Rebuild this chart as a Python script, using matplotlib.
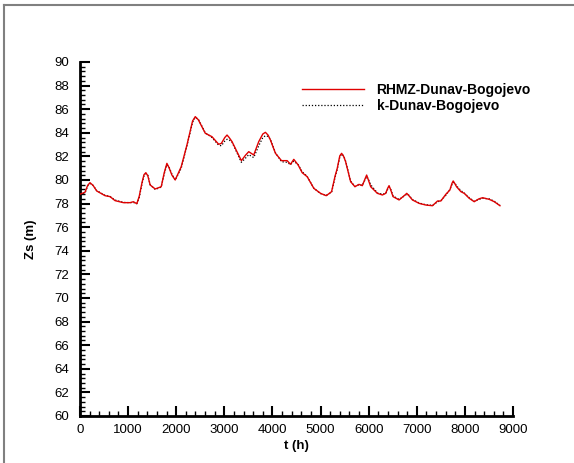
import matplotlib
matplotlib.use("Agg")
import matplotlib.pyplot as plt
from matplotlib.ticker import MultipleLocator
from matplotlib.lines import Line2D

plt.rcParams['font.family'] = ['Liberation Sans', 'DejaVu Sans']

t_h = [0, 104, 160, 208, 270, 348, 521, 625, 729, 902, 1042, 1110, 1181, 1230,
       1290, 1330, 1369, 1410, 1458, 1563, 1688, 1750, 1806, 1850, 1910, 1979,
       2104, 2223, 2340, 2396, 2460, 2604, 2743, 2882, 2938, 3010, 3056, 3100,
       3160, 3354, 3440, 3507, 3611, 3715, 3800, 3854, 3910, 3958, 4063, 4188,
       4306, 4375, 4444, 4535, 4618, 4722, 4861, 5000, 5118, 5229, 5300, 5347,
       5400, 5438, 5480, 5521, 5625, 5715, 5799, 5868, 5930, 5958, 5990, 6042,
       6181, 6285, 6354, 6395, 6424, 6455, 6507, 6632, 6760, 6792, 6840, 6910,
       7049, 7188, 7326, 7431, 7500, 7604, 7688, 7730, 7757, 7790, 7827, 7917,
       7986, 8090, 8194, 8290, 8368, 8507, 8611, 8729]

rhmz = [78.8, 78.96, 79.55, 79.77, 79.55, 79.07, 78.67, 78.59, 78.25, 78.08, 78.08,
        78.16, 77.99, 78.6, 79.8, 80.45, 80.62, 80.35, 79.58, 79.24, 79.43, 80.6,
        81.41, 81.05, 80.42, 80.0, 81.13, 82.97, 85.0, 85.37, 85.1, 83.96, 83.67,
        83.03, 83.1, 83.6, 83.81, 83.6, 83.25, 81.64, 82.1, 82.40, 82.12, 83.25,
        83.9, 84.04, 83.8, 83.39, 82.26, 81.64, 81.64, 81.33, 81.75, 81.27, 80.62,
        80.28, 79.29, 78.87, 78.67, 79.01, 80.3, 80.99, 82.05, 82.26, 82.0, 81.55,
        79.86, 79.43, 79.63, 79.52, 80.15, 80.42, 80.05, 79.43, 78.87, 78.73, 78.87,
        79.3, 79.52, 79.2, 78.59, 78.31, 78.75, 78.87, 78.65, 78.31, 78.02, 77.88,
        77.82, 78.22, 78.22, 78.79, 79.15, 79.7, 79.92, 79.7, 79.43, 79.01, 78.87,
        78.45, 78.16, 78.4, 78.5, 78.36, 78.16, 77.82]

k_model = [78.8, 78.9, 79.5, 79.7, 79.55, 79.1, 78.7, 78.6, 78.3, 78.1, 78.08,
           78.1, 78.0, 78.5, 79.7, 80.35, 80.55, 80.4, 79.6, 79.2, 79.4, 80.5,
           81.3, 81.1, 80.5, 80.0, 81.0, 82.9, 84.9, 85.3, 85.15, 84.0, 83.6,
           82.95, 82.9, 83.3, 83.45, 83.4, 83.2, 81.5, 81.85, 82.15, 81.9, 82.9,
           83.6, 83.75, 83.7, 83.45, 82.3, 81.55, 81.5, 81.3, 81.6, 81.3, 80.7,
           80.3, 79.3, 78.85, 78.7, 78.95, 80.2, 80.9, 81.95, 82.2, 82.05, 81.6,
           79.9, 79.45, 79.6, 79.55, 80.05, 80.3, 80.1, 79.6, 78.9, 78.8, 78.85,
           79.2, 79.4, 79.25, 78.65, 78.35, 78.7, 78.8, 78.7, 78.35, 78.05, 77.9,
           77.85, 78.15, 78.25, 78.7, 79.2, 79.6, 79.8, 79.75, 79.5, 79.1, 78.9,
           78.5, 78.2, 78.35, 78.45, 78.4, 78.2, 77.85]

series_labels = ['RHMZ-Dunav-Bogojevo', 'k-Dunav-Bogojevo']

fig = plt.figure(figsize=(5.74, 4.63), dpi=100)
ax = fig.add_axes([80/574, 1-416/463, (513-80)/574, (416-62)/463])

ax.plot(t_h, k_model, color='black', linestyle=(0, (1, 1.5)), linewidth=0.9,
        label=series_labels[1], zorder=2)
ax.plot(t_h, rhmz, color='#e00000', linewidth=1.0, label=series_labels[0], zorder=3)

ax.set_xlim(0, 9000)
ax.set_ylim(60, 90)
ax.xaxis.set_major_locator(MultipleLocator(1000))
ax.xaxis.set_minor_locator(MultipleLocator(200))
ax.yaxis.set_major_locator(MultipleLocator(2))
ax.yaxis.set_minor_locator(MultipleLocator(0.4))

for s in ['top', 'right']:
    ax.spines[s].set_visible(False)
for s in ['left', 'bottom']:
    ax.spines[s].set_linewidth(2)

ax.tick_params(which='major', direction='in', length=7, width=1.5, labelsize=9.5, pad=6)
ax.tick_params(which='minor', direction='in', length=3.5, width=1)
ax.tick_params(axis='y', pad=8)

ax.set_xlabel('t (h)', fontsize=9.5, fontweight='bold', labelpad=3)
ax.set_ylabel('Zs (m)', fontsize=9.5, fontweight='bold', labelpad=12)

handles = ax.get_legend_handles_labels()[0]
leg = ax.legend([handles[1], handles[0]], series_labels, loc='upper left',
                bbox_to_anchor=((296-80)/433, 1-(77-62)/354), frameon=False,
                prop={'size': 10, 'weight': 'bold'}, handlelength=4.5,
                handletextpad=0.9, labelspacing=0.15, borderaxespad=0)

fig.add_artist(Line2D([4/574, 4/574], [0, 1-5/463], transform=fig.transFigure,
                      color='#808080', linewidth=1.5))
fig.add_artist(Line2D([4/574, 1], [1-5/463, 1-5/463], transform=fig.transFigure,
                      color='#808080', linewidth=1.5))

fig.savefig('out.png', dpi=100)
